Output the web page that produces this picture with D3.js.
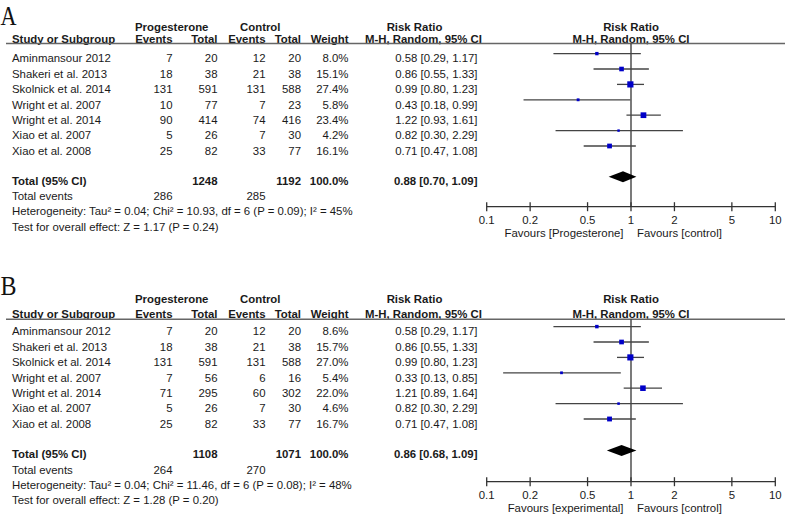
<!DOCTYPE html>
<html><head><meta charset="utf-8">
<script src="https://cdn.jsdelivr.net/npm/d3@7"></script>
<style>
html,body{margin:0;padding:0;background:#fff;}
svg{display:block;}
text{font-family:"Liberation Sans",Arial,sans-serif;font-size:11.4px;fill:#1a1a1a;}
.b{font-weight:bold;}
</style></head>
<body><svg id="c" width="787" height="515"></svg>
<script>
const studies = ["Aminmansour 2012","Shakeri et al. 2013","Skolnick et al. 2014","Wright et al. 2007","Wright et al. 2014","Xiao et al. 2007","Xiao et al. 2008"];

const progEventsA = [7,18,131,10,90,5,25];
const progTotalA  = [20,38,591,77,414,26,82];
const ctrlEventsA = [12,21,131,7,74,7,33];
const ctrlTotalA  = [20,38,588,23,416,30,77];
const weightA     = [8.0,15.1,27.4,5.8,23.4,4.2,16.1];
const rrA   = [0.58,0.86,0.99,0.43,1.22,0.82,0.71];
const lowA  = [0.29,0.55,0.80,0.18,0.93,0.30,0.47];
const highA = [1.17,1.33,1.23,0.99,1.61,2.29,1.08];
const totalA = {prog:1248, ctrl:1192, evProg:286, evCtrl:285, rr:0.88, low:0.70, high:1.09};
const hetA = "Heterogeneity: Tau² = 0.04; Chi² = 10.93, df = 6 (P = 0.09); I² = 45%";
const testA = "Test for overall effect: Z = 1.17 (P = 0.24)";
const favLeftA = "Favours [Progesterone]";

const progEventsB = [7,18,131,7,71,5,25];
const progTotalB  = [20,38,591,56,295,26,82];
const ctrlEventsB = [12,21,131,6,60,7,33];
const ctrlTotalB  = [20,38,588,16,302,30,77];
const weightB     = [8.6,15.7,27.0,5.4,22.0,4.6,16.7];
const rrB   = [0.58,0.86,0.99,0.33,1.21,0.82,0.71];
const lowB  = [0.29,0.55,0.80,0.13,0.89,0.30,0.47];
const highB = [1.17,1.33,1.23,0.85,1.64,2.29,1.08];
const totalB = {prog:1108, ctrl:1071, evProg:264, evCtrl:270, rr:0.86, low:0.68, high:1.09};
const hetB = "Heterogeneity: Tau² = 0.04; Chi² = 11.46, df = 6 (P = 0.08); I² = 48%";
const testB = "Test for overall effect: Z = 1.28 (P = 0.20)";
const favLeftB = "Favours [experimental]";

const tickValues = [0.1,0.2,0.5,1,2,5,10];
const tickLabels = ["0.1","0.2","0.5","1","2","5","10"];
const favRight = "Favours [control]";

const svg = d3.select("#c");
const x = d3.scaleLog().domain([0.1,10]).range([486.7,775.3]);
const boxSize = d3.scaleSqrt().domain([0,27.4]).range([0,6.2]);
const f2 = d3.format(".2f");
const f1 = d3.format(".1f");

function panel(cfg){
  const g = svg.append("g");
  const o = cfg.off;
  g.append("text").text(cfg.letter)
    .attr("x",0.5).attr("y",o.letter)
    .style("font-family","'Liberation Serif','DejaVu Serif',serif")
    .style("font-size","27px").style("fill","#111")
    .attr("textLength",16).attr("lengthAdjust","spacingAndGlyphs");

  const h1 = o.h1, h2 = o.h2;
  g.append("text").attr("class","b").attr("x",135).attr("y",h1).text("Progesterone");
  g.append("text").attr("class","b").attr("x",240).attr("y",h1).text("Control");
  g.append("text").attr("class","b").attr("x",414.5).attr("y",h1).attr("text-anchor","middle").text("Risk Ratio");
  g.append("text").attr("class","b").attr("x",x(1)).attr("y",h1).attr("text-anchor","middle").text("Risk Ratio");
  g.append("text").attr("class","b").attr("x",12).attr("y",h2).text("Study or Subgroup");
  const hdr = [["Events",172.5],["Total",217.5],["Events",265.5],["Total",301],["Weight",348.5],["M-H, Random, 95% CI",482]];
  hdr.forEach(([t,xx])=>g.append("text").attr("class","b").attr("x",xx).attr("y",h2).attr("text-anchor","end").text(t));
  g.append("text").attr("class","b").attr("x",x(1)).attr("y",h2).attr("text-anchor","middle").text("M-H, Random, 95% CI");
  g.append("line").attr("x1",6).attr("x2",785).attr("y1",o.line).attr("y2",o.line)
    .attr("stroke","#666").attr("stroke-width",1.6);

  const yRow = d3.scaleLinear().domain([0,6]).range([o.ci0, o.ci0 + 6*15.4]);
  const tOff = 8.8;
  const d = cfg.data;
  studies.forEach((s,i)=>{
    const yy = yRow(i)+tOff;
    g.append("text").attr("x",12).attr("y",yy).text(s);
    [[d.pe[i],172.5],[d.pt[i],217.5],[d.ce[i],265.5],[d.ct[i],301],[f1(d.w[i])+"%",348.5],
     [`${f2(d.rr[i])} [${f2(d.lo[i])}, ${f2(d.hi[i])}]`,477.5]]
     .forEach(([t,xx])=>g.append("text").attr("x",xx).attr("y",yy).attr("text-anchor","end").text(t));
  });

  const ty = o.diamond + 7.8;
  g.append("text").attr("class","b").attr("x",12).attr("y",ty).text("Total (95% CI)");
  [[d.tot.prog,217.5],[d.tot.ctrl,301],["100.0%",348.5],
   [`${f2(d.tot.rr)} [${f2(d.tot.low)}, ${f2(d.tot.high)}]`,477.5]]
   .forEach(([t,xx])=>g.append("text").attr("class","b").attr("x",xx).attr("y",ty).attr("text-anchor","end").text(t));
  g.append("text").attr("x",12).attr("y",ty+15.5).text("Total events");
  g.append("text").attr("x",172.5).attr("y",ty+15.5).attr("text-anchor","end").text(d.tot.evProg);
  g.append("text").attr("x",265.5).attr("y",ty+15.5).attr("text-anchor","end").text(d.tot.evCtrl);
  g.append("text").attr("x",12).attr("y",ty+30.8).text(cfg.het);
  g.append("text").attr("x",12).attr("y",ty+46).text(cfg.test);

  g.append("line").attr("x1",x(1)).attr("x2",x(1)).attr("y1",o.line).attr("y2",o.axis)
    .attr("stroke","#333").attr("stroke-width",1.3);

  studies.forEach((s,i)=>{
    const yy = yRow(i);
    g.append("line").attr("x1",x(d.lo[i])).attr("x2",x(d.hi[i])).attr("y1",yy).attr("y2",yy)
      .attr("stroke","#444").attr("stroke-width",1.3);
    const b = boxSize(d.w[i]);
    g.append("rect").attr("x",x(d.rr[i])-b/2).attr("y",yy-b/2).attr("width",b).attr("height",b)
      .attr("fill","#0000c8");
  });

  const dy = o.diamond, hh = 5.5;
  g.append("path").attr("d",`M${x(d.tot.low)},${dy}L${x(d.tot.rr)},${dy-hh}L${x(d.tot.high)},${dy}L${x(d.tot.rr)},${dy+hh}Z`)
    .attr("fill","#000");

  const ax = g.append("g").attr("transform",`translate(0,${o.axis})`);
  ax.append("line").attr("x1",x(0.1)).attr("x2",x(10)).attr("stroke","#333").attr("stroke-width",1.3);
  tickValues.forEach((v,i)=>{
    ax.append("line").attr("x1",x(v)).attr("x2",x(v)).attr("y1",-4.5).attr("y2",4.5).attr("stroke","#333").attr("stroke-width",1.3);
    ax.append("text").attr("x",x(v)).attr("y",17).attr("text-anchor","middle").text(tickLabels[i]);
  });
  ax.append("text").attr("x",623.5).attr("y",30.5).attr("text-anchor","end").text(cfg.favLeft);
  ax.append("text").attr("x",637).attr("y",30.5).text(favRight);
}

panel({letter:"A", off:{letter:25, h1:30.5, h2:42.5, line:43.5, ci0:53.6, diamond:176.7, axis:206.7},
  data:{pe:progEventsA,pt:progTotalA,ce:ctrlEventsA,ct:ctrlTotalA,w:weightA,rr:rrA,lo:lowA,hi:highA,tot:totalA},
  het:hetA, test:testA, favLeft:favLeftA});
panel({letter:"B", off:{letter:295, h1:303, h2:318, line:319.3, ci0:326.6, diamond:450.5, axis:481.7},
  data:{pe:progEventsB,pt:progTotalB,ce:ctrlEventsB,ct:ctrlTotalB,w:weightB,rr:rrB,lo:lowB,hi:highB,tot:totalB},
  het:hetB, test:testB, favLeft:favLeftB});
</script></body></html>
